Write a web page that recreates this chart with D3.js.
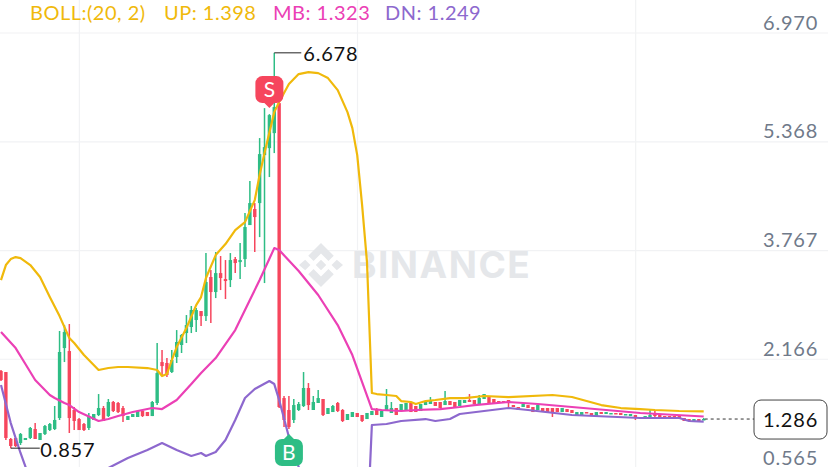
<!DOCTYPE html>
<html><head><meta charset="utf-8">
<script src="https://cdn.jsdelivr.net/npm/d3@7"></script>
<style>html,body{margin:0;padding:0;background:#fff;overflow:hidden}svg{display:block}text{font-family:Lato,"Open Sans",sans-serif}</style>
</head><body><svg id="c" width="828" height="467"></svg>
<script>
const highs=[2.008,1.978,1.007,1.007,1.080,1.007,1.169,1.227,1.080,1.198,
1.227,1.478,2.582,2.670,2.685,1.463,1.301,1.227,1.375,1.360,
1.654,1.478,1.581,1.551,1.537,1.478,1.330,1.360,1.419,1.419,
1.389,1.551,2.405,2.302,2.184,2.302,2.596,2.537,2.817,2.950,
2.920,2.876,3.730,3.480,3.745,3.686,3.627,3.730,3.671,3.877,
4.319,4.790,4.466,5.423,5.864,5.776,6.678,5.982,1.625,1.625,
1.581,1.537,1.978,1.816,1.625,1.713,1.581,1.448,1.492,1.537,
1.433,1.360,1.389,1.375,1.345,1.375,1.404,1.448,1.404,1.728,
1.537,1.448,1.507,1.522,1.522,1.478,1.507,1.537,1.610,1.537,
1.537,1.698,1.551,1.537,1.566,1.566,1.654,1.566,1.640,1.654,
1.610,1.581,1.551,1.551,1.566,1.492,1.463,1.507,1.492,1.463,
1.492,1.448,1.448,1.448,1.448,1.448,1.433,1.419,1.389,1.389,
1.389,1.375,1.389,1.389,1.389,1.375,1.375,1.375,1.360,1.360,
1.345,1.316,1.330,1.433,1.404,1.345,1.330,1.330,1.330,1.330,
1.301,1.286,1.286,1.286,1.301];
const opens=[1.993,1.978,0.992,1.007,0.933,0.977,1.007,1.139,0.977,1.065,
1.124,1.139,1.301,2.331,2.287,1.419,1.286,1.213,1.154,1.272,
1.345,1.448,1.330,1.537,1.522,1.448,1.272,1.316,1.316,1.404,
1.389,1.330,1.522,2.125,2.111,1.978,2.199,2.376,2.552,2.641,
2.744,2.876,2.802,3.377,3.156,3.435,3.347,3.332,3.642,3.597,
3.641,4.142,4.378,4.466,5.172,5.275,5.496,5.938,1.595,1.419,
1.272,1.419,1.478,1.743,1.419,1.522,1.581,1.360,1.389,1.522,
1.419,1.272,1.316,1.375,1.345,1.286,1.345,1.433,1.316,1.404,
1.375,1.448,1.404,1.419,1.522,1.478,1.404,1.492,1.507,1.537,
1.537,1.492,1.551,1.537,1.478,1.522,1.566,1.566,1.507,1.581,
1.610,1.581,1.551,1.551,1.566,1.492,1.463,1.463,1.492,1.463,
1.419,1.448,1.448,1.448,1.448,1.389,1.433,1.419,1.345,1.345,
1.389,1.375,1.330,1.389,1.360,1.360,1.375,1.375,1.345,1.330,
1.345,1.301,1.301,1.316,1.360,1.345,1.330,1.330,1.330,1.330,
1.301,1.286,1.242,1.286,1.272];
const closes=[1.860,1.007,0.889,0.889,1.065,1.007,1.154,0.992,1.080,1.183,
1.213,1.272,2.273,2.567,1.301,1.257,1.124,1.124,1.330,1.360,
1.448,1.257,1.537,1.404,1.389,1.330,1.330,1.360,1.404,1.330,
1.330,1.537,1.963,2.066,1.934,2.155,2.420,2.523,2.670,2.891,
2.891,2.802,3.303,3.156,3.435,3.362,3.318,3.627,3.583,3.627,
4.113,4.466,4.260,5.187,5.290,5.761,5.879,1.463,1.272,1.169,
1.492,1.507,1.743,1.492,1.537,1.595,1.345,1.448,1.478,1.404,
1.257,1.360,1.389,1.316,1.257,1.375,1.404,1.345,1.404,1.492,
1.448,1.345,1.507,1.522,1.389,1.389,1.507,1.537,1.566,1.478,
1.448,1.551,1.492,1.463,1.566,1.566,1.537,1.507,1.595,1.654,
1.522,1.522,1.522,1.522,1.522,1.463,1.419,1.507,1.448,1.389,
1.492,1.404,1.389,1.389,1.389,1.448,1.389,1.375,1.389,1.389,
1.375,1.330,1.389,1.360,1.389,1.375,1.360,1.345,1.360,1.360,
1.316,1.316,1.330,1.345,1.330,1.316,1.301,1.301,1.301,1.301,
1.257,1.257,1.286,1.257,1.286];
const lows=[1.846,0.977,0.857,0.874,0.904,0.977,0.992,0.992,0.977,1.051,
1.110,1.124,1.272,2.125,1.080,1.124,1.124,1.110,1.124,1.272,
1.330,1.257,1.316,1.389,1.375,1.242,1.272,1.316,1.316,1.316,
1.330,1.330,1.492,1.919,1.905,1.963,2.111,2.258,2.405,2.552,
2.567,2.655,2.729,2.699,3.067,3.185,3.053,3.229,3.435,3.347,
3.524,4.142,3.745,3.965,3.288,4.849,5.202,1.448,1.169,1.139,
1.227,1.404,1.463,1.419,1.419,1.522,1.330,1.360,1.389,1.389,
1.242,1.272,1.316,1.316,1.242,1.286,1.345,1.345,1.316,1.404,
1.375,1.345,1.404,1.419,1.389,1.389,1.404,1.492,1.507,1.478,
1.448,1.492,1.492,1.463,1.478,1.522,1.537,1.507,1.507,1.581,
1.522,1.522,1.522,1.522,1.463,1.463,1.419,1.463,1.448,1.389,
1.419,1.404,1.389,1.316,1.389,1.389,1.389,1.375,1.345,1.345,
1.375,1.330,1.330,1.360,1.360,1.360,1.360,1.345,1.345,1.330,
1.272,1.301,1.301,1.316,1.316,1.316,1.301,1.301,1.301,1.301,
1.257,1.257,1.242,1.257,1.272];
const upIdx=[0,1,2,3,4,6,8,10,12,14,15,17,20,22,24,26,30,32,33,34,35,36,38,40,41,42,44,46,48,50,52,53,54,56,57,59,61,63,65,67,69,71,72,73,74,75,76,77,79,81,82,84,85,87,89,92,95,99,104,113,117,120,123,127,131,134,139,144];
const upVal=[3.332,3.553,3.641,3.671,3.656,3.553,3.377,3.082,2.802,2.479,2.405,2.228,2.008,2.037,2.052,2.052,2.037,2.008,1.919,1.949,2.155,2.346,2.626,2.964,3.082,3.362,3.700,3.862,4.068,4.186,4.510,4.878,5.202,5.805,5.953,6.218,6.365,6.394,6.379,6.306,6.129,5.805,5.570,5.172,4.436,3.597,1.669,1.654,1.640,1.625,1.551,1.537,1.507,1.551,1.566,1.595,1.595,1.625,1.610,1.640,1.610,1.551,1.492,1.448,1.433,1.419,1.404,1.398];
const mbIdx=[0,3,5,7,10,11,13,14,16,20,22,24,27,31,33,36,39,41,44,48,51,53,56,57,61,65,69,72,76,78,82,85,90,94,97,104,110,117,124,131,144];
const mbVal=[2.567,2.331,2.096,1.860,1.640,1.595,1.522,1.492,1.389,1.257,1.286,1.330,1.389,1.448,1.433,1.566,1.801,1.963,2.184,2.596,3.038,3.332,3.803,3.774,3.465,3.112,2.670,2.228,1.433,1.419,1.404,1.419,1.433,1.463,1.492,1.537,1.507,1.463,1.419,1.375,1.323];
const dnIdx=[0,2,4,6,10,16,20,22,26,30,33,36,39,41,42,44,46,48,50,52,55,56,57,59,61,64,70,75,76,79,81,82,87,89,92,94,99,104,108,117,131,139,141,144];
const dnVal=[1.787,1.227,0.786,0.388,0.094,0.020,0.388,0.565,0.712,0.830,0.933,0.830,0.742,0.786,0.742,0.801,0.977,1.272,1.595,1.728,1.846,1.801,1.566,1.021,0.580,0.094,-0.348,-0.421,1.198,1.213,1.242,1.257,1.286,1.257,1.286,1.360,1.404,1.448,1.419,1.345,1.301,1.301,1.257,1.249];
const tickVals=[6.970,5.368,3.767,2.166,0.565];
const vGridIdx=[16,73,130];
const legendParts=[["BOLL:(20, 2)","#F0B90B"],["UP: 1.398","#F0B90B"],["MB: 1.323","#EB40B5"],["DN: 1.249","#8D68CE"]];
const legendX=[30,164,273,385];
const sigS={idx:55,label:"S"}, sigB={idx:59,label:"B"};
const highMark={idx:56,value:6.678}, lowMark={idx:2,value:0.857}, lastPrice=1.286;

const green="#2EBD85", red="#F6465D";
const svg=d3.select("#c");
const x=d3.scaleLinear().domain([0,144]).range([1,703.7]);
const y=d3.scaleLinear().domain([0.565,6.970]).range([468,33]);
const f3=d3.format(".3f");

svg.append("g").selectAll("line").data(tickVals).join("line")
 .attr("x1",0).attr("x2",828).attr("y1",d=>y(d)).attr("y2",d=>y(d)).attr("stroke","#F1F2F4").attr("stroke-width",1.2);
svg.append("g").selectAll("line").data(vGridIdx).join("line")
 .attr("x1",d=>x(d)+.3).attr("x2",d=>x(d)+.3).attr("y1",0).attr("y2",467).attr("stroke","#F1F2F4").attr("stroke-width",1.2);

// watermark
const wm=svg.append("g").attr("transform","translate(321,265)").attr("fill","#E5E7EA");
const u=22;
const shapes=[
 [[0,-u],[u*.58,-u*.42],[u*.34,-u*.18],[0,-u*.52],[-u*.34,-u*.18],[-u*.58,-u*.42]],
 [[0,u],[u*.58,u*.42],[u*.34,u*.18],[0,u*.52],[-u*.34,u*.18],[-u*.58,u*.42]],
 [[0,-u*.24],[u*.24,0],[0,u*.24],[-u*.24,0]],
 [[-u*.72,-u*.24],[-u*.48,0],[-u*.72,u*.24],[-u,0]],
 [[u*.72,-u*.24],[u,0],[u*.72,u*.24],[u*.48,0]]];
wm.selectAll("polygon").data(shapes).join("polygon").attr("points",d=>d.join(" "));
svg.append("text").attr("x",352).attr("y",278).attr("fill","#E5E7EA").attr("font-size",37).attr("font-weight",700).attr("letter-spacing",1.5).style("font-family","Inter,Lato,sans-serif").text("BINANCE");

// axis labels
const ax=d3.axisRight(y).tickValues(tickVals).tickFormat(f3).tickSize(0);
const axG=svg.append("g").attr("transform","translate(763,0)").call(ax);
axG.select(".domain").remove();
axG.selectAll("text").attr("x",0).attr("dy",0).attr("y",-4).attr("fill","#707A8A").attr("font-size",20).attr("letter-spacing",.8).style("font-family","Lato,sans-serif");

// candles
const idx=d3.range(highs.length);
const col=i=>closes[i]>opens[i]?green:red;
const cg=svg.append("g");
cg.selectAll("line").data(idx).join("line")
 .attr("x1",i=>x(i)).attr("x2",i=>x(i)).attr("y1",i=>y(highs[i])).attr("y2",i=>y(lows[i]))
 .attr("stroke",col).attr("stroke-width",1.5);
cg.selectAll("rect").data(idx).join("rect")
 .attr("x",i=>x(i)-1.7).attr("width",3.4)
 .attr("y",i=>y(Math.max(opens[i],closes[i])))
 .attr("height",i=>Math.max(1.5,Math.abs(y(opens[i])-y(closes[i]))))
 .attr("fill",col);

// bollinger
const line=d3.line().x(d=>x(d[0])).y(d=>y(d[1]));
[[upIdx,upVal,"#F0B90B"],[mbIdx,mbVal,"#EB40B5"],[dnIdx,dnVal,"#8D68CE"]].forEach(([a,b,c])=>{
 svg.append("path").attr("d",line(a.map((v,i)=>[v,b[i]]))).attr("fill","none").attr("stroke",c).attr("stroke-width",2.2).attr("stroke-linejoin","round");
});

// high / low callouts
const hx=x(highMark.idx), hy=y(highMark.value);
svg.append("line").attr("x1",hx).attr("x2",hx+27).attr("y1",hy).attr("y2",hy).attr("stroke","#222").attr("stroke-width",1);
svg.append("text").attr("x",hx+29).attr("y",hy+8).attr("font-size",20).attr("letter-spacing",.8).attr("fill","#111").text(f3(highMark.value));
const lx=x(lowMark.idx), ly=y(lowMark.value);
svg.append("line").attr("x1",lx).attr("x2",lx+29).attr("y1",ly).attr("y2",ly).attr("stroke","#222").attr("stroke-width",1);
svg.append("text").attr("x",lx+29.5).attr("y",ly+9).attr("font-size",20).attr("letter-spacing",.8).attr("fill","#111").text(f3(lowMark.value));

// signal markers
function marker(sx,tipY,dir,color,t){
 const w=28,h=27,top=dir>0?tipY-5-h:tipY+5;
 const g=svg.append("g");
 g.append("rect").attr("x",sx-w/2).attr("y",top).attr("width",w).attr("height",h).attr("rx",7).attr("fill",color);
 const base=dir>0?top+h-1:top+1;
 g.append("polygon").attr("points",[[sx-6,base],[sx+6,base],[sx,tipY]].join(" ")).attr("fill",color);
 g.append("text").attr("x",sx).attr("y",top+h/2+7.5).attr("text-anchor","middle").attr("fill","#fff").attr("font-size",21).text(t);
}
marker(x(sigS.idx),y(highs[sigS.idx])-6,1,red,sigS.label);
marker(x(sigB.idx),y(lows[sigB.idx])+5,-1,green,sigB.label);

// last price
const py=y(lastPrice);
svg.append("line").attr("x1",x(144)+1).attr("x2",754).attr("y1",py).attr("y2",py).attr("stroke","#333").attr("stroke-dasharray","3 3").attr("stroke-width",1);
svg.append("rect").attr("x",754).attr("y",py-19).attr("width",73).attr("height",39).attr("rx",7).attr("fill","#fff").attr("stroke","#444").attr("stroke-width",1);
svg.append("text").attr("x",790.5).attr("y",py+7.5).attr("text-anchor","middle").attr("font-size",20).attr("letter-spacing",.8).attr("fill","#111").text(f3(lastPrice));

// legend
svg.append("g").selectAll("text").data(legendParts).join("text")
 .attr("x",(d,i)=>legendX[i]).attr("y",19.5).attr("fill",d=>d[1]).attr("font-size",20).attr("letter-spacing",.5).text(d=>d[0]);
</script></body></html>
